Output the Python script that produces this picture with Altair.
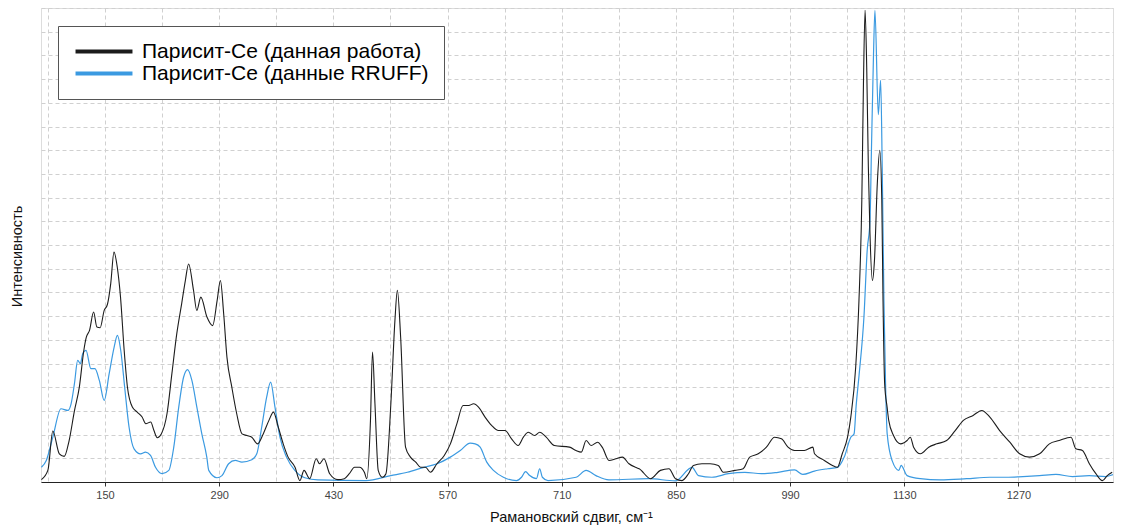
import altair as alt
import pandas as pd

# Raman shift (cm^-1) and intensity (arbitrary units)
work_x = [72, 80, 86, 94, 100, 106, 112.5, 118.5, 124, 127, 131, 136, 140, 144, 149, 153, 157, 161, 165, 169,
          173.5, 177.5, 183.5, 189.5, 195.5, 200, 206, 210, 214, 219, 226, 232, 238, 244, 248.5, 252.5, 258.5,
          262.5, 267.5, 275, 282, 287.5, 291.5, 295.5, 299.5, 305.5, 311.5, 318, 324, 330, 337, 344, 351, 356.5,
          362.5, 368.5, 374.5, 383, 389, 394, 401, 409, 413, 418.5, 425.5, 435.5, 443.5, 449.5, 456, 462, 468,
          471, 475.5, 478, 481, 485, 490, 494.5, 500.5, 505.5, 508.5, 512.5, 518.5, 524.5, 531, 537, 543, 549,
          557, 566, 573.5, 581.5, 589, 596, 602, 608, 616, 624, 632.5, 640.5, 648.5, 656.5, 663, 669, 677, 683,
          691, 701, 719.5, 727.5, 734, 740, 746, 754, 760, 768, 776.5, 784.5, 792.5, 800.5, 805, 819, 831,
          841.5, 849.5, 857.5, 865.5, 871.5, 882, 892, 902, 908, 922.5, 932.5, 940.5, 951, 961, 971, 979.5,
          987.5, 995.5, 1007.5, 1018, 1020, 1032, 1042, 1048, 1054, 1060.5, 1064.5, 1070.5, 1074.5, 1078, 1080,
          1082, 1084, 1086, 1088, 1091, 1093.5, 1097, 1100, 1102.5, 1104, 1106, 1109, 1111, 1117, 1125.5,
          1133.5, 1137.5, 1141.5, 1150, 1160, 1170, 1182, 1192.5, 1202.5, 1214.5, 1225, 1235, 1247, 1259.5,
          1271.5, 1283.5, 1296, 1308, 1320, 1334.5, 1340.5, 1348.5, 1357, 1365, 1373, 1379, 1385]
work_y = [0.1, 0.5, 2.15, 1.19, 1.08, 1.75, 3.0, 4.0, 5.55, 6.1, 6.4, 7.17, 6.54, 6.51, 7.24, 7.5, 8.37, 9.7, 9.07, 7.8,
          5.55, 4.0, 3.16, 2.95, 2.74, 2.46, 2.53, 2.17, 1.87, 2.03, 2.88, 4.57, 6.26, 7.53, 8.5, 9.2, 8.09,
          7.24, 7.8, 6.96, 6.6, 7.66, 8.5, 7.1, 5.27, 4.0, 2.88, 2.03, 1.96, 1.89, 1.61, 2.03, 2.6, 2.95,
          2.31, 1.61, 1.05, 0.62, 0.06, 0.49, 0.14, 0.98, 0.77, 0.98, 0.35, 0.1, 0.14, 0.35, 0.62, 0.62, 0.41,
          0.14, 2.6, 5.48, 3.3, 0.49, 0.2, 0.35, 3.3, 6.82, 8.09, 6.11, 1.47, 1.05, 0.84, 0.62, 0.62, 0.41,
          0.77, 1.12, 1.61, 2.46, 3.23, 3.23, 3.3, 3.16, 2.74, 2.39, 2.17, 2.17, 1.82, 1.54, 1.89, 2.1, 1.96, 2.1,
          1.89, 1.54, 1.47, 1.33, 1.26, 1.75, 1.54, 1.68, 1.45, 0.91, 0.98, 1.05, 0.77, 0.62, 0.56, 0.14, 0.49,
          0.56, 0.14, 0.06, 0.35, 0.7, 0.77, 0.77, 0.7, 0.41, 0.49, 0.56, 1.05, 1.19, 1.47, 1.89, 1.82,
          1.47, 1.33, 1.33, 1.47, 1.19, 0.91, 0.7, 0.62, 1.19, 1.89, 2.74, 4.85, 7.66, 11.9, 16.8,
          19.9, 17.5, 13.3, 10.48, 8.5, 9.35, 12.6, 14.0, 11.9, 7.66, 4.15, 3.16, 2.6, 1.95, 1.61,
          1.75, 1.89, 1.47, 1.19, 1.47, 1.61, 1.75, 2.17, 2.6, 2.81, 3.02, 2.74, 2.17, 1.68,
          1.19, 1.05, 1.19, 1.61, 1.75, 1.89, 1.4, 1.33, 0.77, 0.35, 0.06, 0.27, 0.41]

rruff_x = [72, 78, 86, 96, 104.5, 108.4, 112.5, 116.5, 119.8, 122.6, 126.7, 132.7, 137.6, 143, 149, 155.1, 161.2,
           165.2, 169.3, 174.1, 179.5, 185.6, 193.6, 199.7, 205.8, 211.9, 220, 228.2, 234.3, 240.4, 246.4,
           251.3, 256.5, 262.6, 268.7, 274.8, 277.2, 287.3, 293.4, 301.6, 309.7, 317.8, 330, 336.1, 342.1,
           348.2, 353.1, 358.4, 364.5, 372.6, 382.8, 395, 411.2, 470, 500.4, 520.7, 541.1, 557.2, 573.4,
           585.6, 597.8, 603.9, 610, 618.1, 626.3, 638.5, 654.6, 660.7, 665.6, 670.8, 679, 683, 686.3, 693.2,
           727.7, 739.9, 752, 767.9, 816.6, 849.4, 869.8, 877.8, 894.1, 914.3, 934.7, 954.9, 975.2, 995.5,
           1005.6, 1019.9, 1036.1, 1048.2, 1056.4, 1064.5, 1068.5, 1071, 1074.6, 1080.6, 1084.6, 1088, 1089.8,
           1092.3, 1094.1, 1098.2, 1101.1, 1103, 1105.1, 1107.1, 1109.1, 1115.2, 1123.4, 1126.2, 1133.5,
           1149.8, 1174.1, 1206.5, 1235, 1255.2, 1275.5, 1295.9, 1316.1, 1336.4, 1356.8, 1377, 1387]
rruff_y = [0.62, 0.91, 1.89, 3.09, 3.02, 3.3, 4.15, 5.13, 4.99, 5.41, 5.55, 4.78, 4.78, 4.29, 3.44, 4.57, 5.69,
           6.19, 5.55, 4.0, 2.31, 1.4, 1.19, 1.26, 1.12, 0.62, 0.35, 0.49, 1.47, 3.16, 4.43,
           4.74, 4.29, 3.16, 2.03, 1.05, 0.49, 0.18, 0.27, 0.77, 0.91, 0.84, 0.94, 1.19, 2.31,
           3.58, 4.21, 3.16, 1.89, 1.05, 0.49, 0.18, 0.09, 0.06, 0.27, 0.41, 0.62, 0.77, 1.05,
           1.33, 1.64, 1.61, 1.47, 0.84, 0.49, 0.2, 0.06, 0.2, 0.44, 0.27, 0.14, 0.56, 0.2, 0.06,
           0.2, 0.49, 0.27, 0.09, 0.14, 0.05, 0.62, 0.27, 0.2, 0.35, 0.41, 0.35, 0.41, 0.51,
           0.32, 0.46, 0.56, 0.62, 1.05, 1.89, 2.03, 3.2, 4.5, 6.96, 9.78, 11.0, 14.0,
           18.0, 19.9, 15.5, 16.95, 13.3, 7.66, 4.15, 2.03, 0.9, 0.49, 0.7, 0.27,
           0.14, 0.09, 0.14, 0.2, 0.2, 0.23, 0.27, 0.32, 0.23, 0.27, 0.23, 0.32]

series_names = ["Парисит-Се (данная работа)", "Парисит-Се (данные RRUFF)"]
series_colors = ["#1c1c1c", "#3b9ae1"]

x_grid = [80, 150, 220, 290, 360, 430, 500, 570, 640, 710, 780, 850, 920, 990, 1060, 1130, 1200, 1270, 1340]
x_domain = [71.5, 1386]
y_grid = list(range(0, 21))
y_domain = [0, 20]

df_work = pd.DataFrame({"x": work_x, "y": work_y, "s": series_names[0]})
df_rruff = pd.DataFrame({"x": rruff_x, "y": rruff_y, "s": series_names[1]})

FONT = "Liberation Sans"

x_enc = alt.X(
    "x:Q",
    scale=alt.Scale(domain=x_domain, nice=False, zero=False),
    axis=alt.Axis(
        values=x_grid,
        format="d",
        labelExpr="(datum.value - 150) % 140 === 0 ? datum.label : ''",
        tickOpacity={"condition": {"test": "(datum.value - 150) % 140 === 0", "value": 1}, "value": 0},
        tickSize=4,
        tickColor="#333333",
        labelPadding=3,
        labelFontSize=11,
        labelFont=FONT,
        labelColor="#444444",
        labelFlush=False,
        domainColor="#222222",
        grid=True,
        gridDash=[4, 3],
        gridColor="#d0d0d0",
        title="Рамановский сдвиг, см⁻¹",
        titleFont=FONT,
        titleFontSize=14.5,
        titleFontWeight="normal",
        titleColor="#111111",
        titlePadding=10,
        titleX=530,
    ),
)
y_enc = alt.Y(
    "y:Q",
    scale=alt.Scale(domain=y_domain, nice=False),
    axis=alt.Axis(
        values=y_grid,
        labels=False,
        ticks=False,
        domain=False,
        grid=True,
        gridDash=[4, 3],
        gridColor="#d0d0d0",
        title="Интенсивность",
        titleFont=FONT,
        titleFontSize=14.5,
        titleFontWeight="normal",
        titleColor="#111111",
        titlePadding=17,
        titleY=248,
    ),
)
color_enc = alt.Color(
    "s:N",
    scale=alt.Scale(domain=series_names, range=series_colors),
    legend=alt.Legend(
        title=None,
        orient="none",
        legendX=17,
        legendY=18,
        symbolType="M-3.35,0L3.35,0",
        symbolSize=289,
        symbolStrokeWidth=4,
        symbolOffset=20.5,
        labelOffset=27.5,
        labelFontSize=21,
        labelFont=FONT,
        labelColor="#000000",
        labelLimit=500,
        padding=15,
        rowPadding=0,
        strokeColor="#555555",
        fillColor="#ffffff",
    ),
)

blue = alt.Chart(df_rruff).mark_line(strokeWidth=1.2, clip=True, interpolate="monotone").encode(
    x=x_enc, y=y_enc, color=color_enc)
black = alt.Chart(df_work).mark_line(strokeWidth=1.1, clip=True, interpolate="monotone").encode(
    x=x_enc, y=y_enc, color=color_enc)

chart = (
    alt.layer(blue, black)
    .properties(
        width=1072,
        height=474,
        autosize=alt.AutoSizeParams(type="none"),
        padding={"left": 33, "top": 0, "right": 1, "bottom": 44},
    )
    .configure_view(stroke="#8a8a8a", strokeWidth=1)
    .configure(background="white")
)

chart.save("out.html", embed_options={"renderer": "svg", "actions": False})
